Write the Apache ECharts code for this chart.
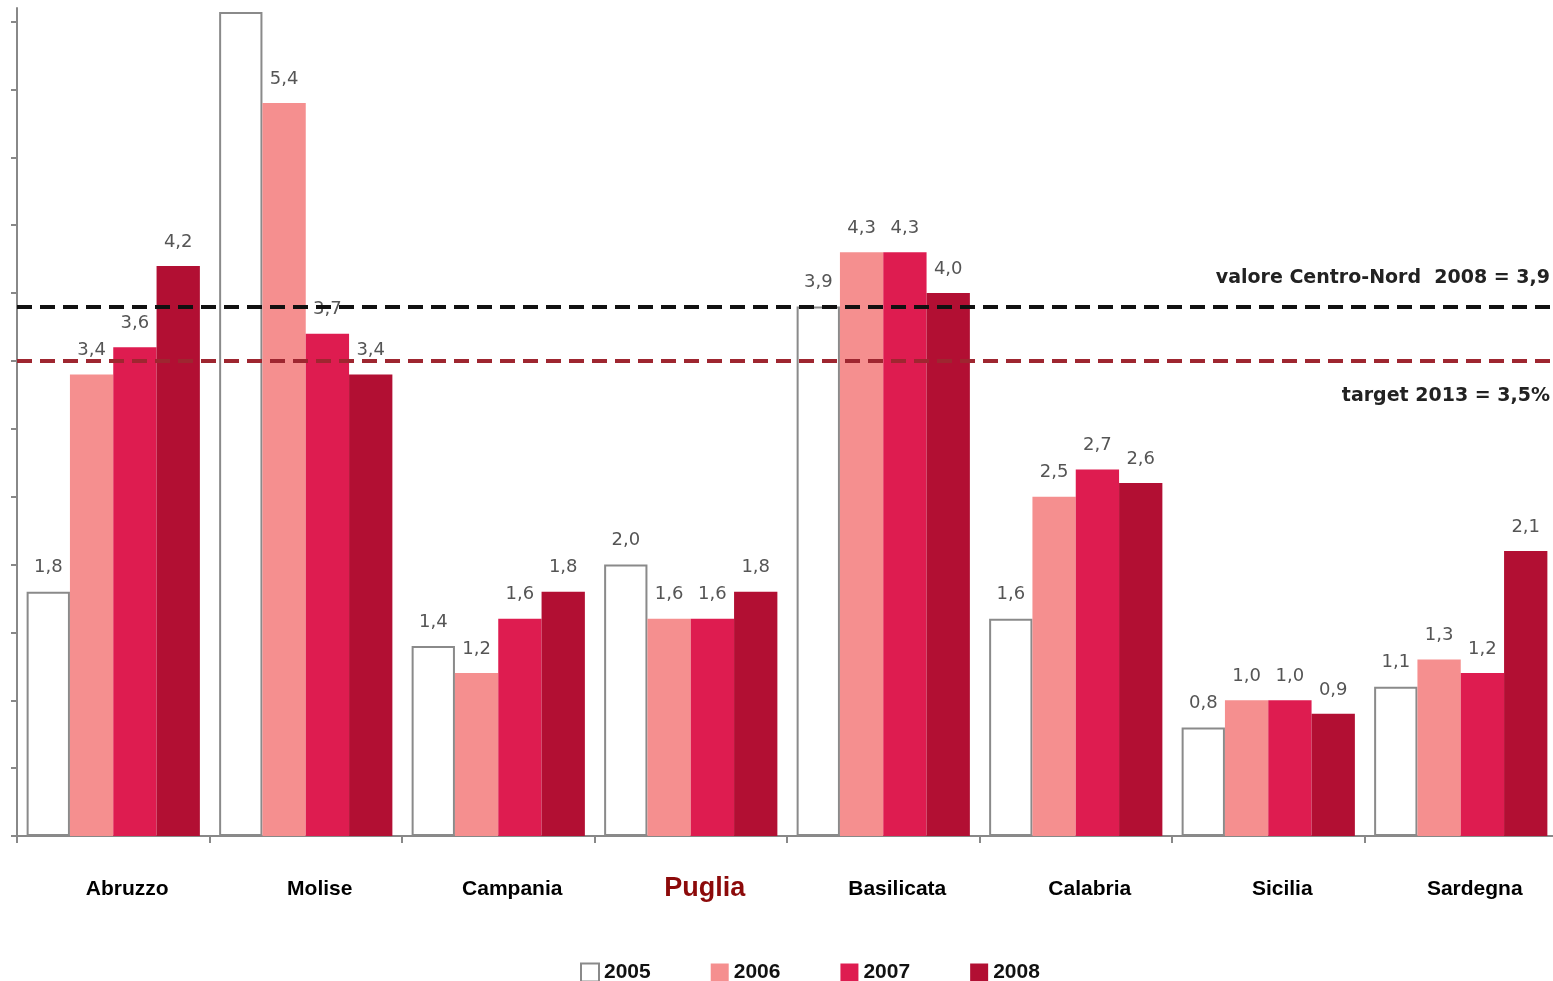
<!DOCTYPE html>
<html>
<head>
<meta charset="utf-8">
<script src="https://cdn.jsdelivr.net/npm/echarts@6/dist/echarts.min.js"></script>
<style>
html,body{margin:0;padding:0;background:#fff;}
#chart{width:1553px;height:981px;}
</style>
</head>
<body>
<div id="chart"></div>
<script>
var regions = ['Abruzzo', 'Molise', 'Campania', 'Puglia', 'Basilicata', 'Calabria', 'Sicilia', 'Sardegna'];
var years = ['2005', '2006', '2007', '2008'];
var v2005 = [1.8, 6.07, 1.4, 2.0, 3.9, 1.6, 0.8, 1.1];
var v2006 = [3.4, 5.4, 1.2, 1.6, 4.3, 2.5, 1.0, 1.3];
var v2007 = [3.6, 3.7, 1.6, 1.6, 4.3, 2.7, 1.0, 1.2];
var v2008 = [4.2, 3.4, 1.8, 1.8, 4.0, 2.6, 0.9, 2.1];
var hiddenLabels2005 = [false, true, false, false, false, false, false, false];
var yTicks = [0, 0.5, 1, 1.5, 2, 2.5, 3, 3.5, 4, 4.5, 5, 5.5, 6];
var centroNord2008 = 3.9;
var target2013 = 3.5;
var highlightRegion = 'Puglia';

function fmt(v) { return v.toFixed(1).replace('.', ','); }

var chart = echarts.init(document.getElementById('chart'), null, {renderer: 'canvas'});

var labelStyle = {
  show: true,
  position: 'top',
  distance: 15,
  fontFamily: 'DejaVu Sans',
  fontSize: 18,
  color: '#555',
  formatter: function (p) { return fmt(p.value); }
};

var colors = ['#ffffff', '#F58F8F', '#DE1C50', '#B20F33'];
var allData = [v2005, v2006, v2007, v2008];

var series = years.map(function (y, i) {
  var s = {
    name: y,
    type: 'bar',
    barGap: '0%',
    barCategoryGap: '10%',
    itemStyle: { color: colors[i] },
    label: labelStyle,
    data: allData[i].map(function (v, j) {
      if (i === 0 && hiddenLabels2005[j]) return { value: v, label: { show: false } };
      return v;
    })
  };
  if (i === 0) {
    s.itemStyle = { color: '#ffffff', borderColor: '#8a8a8a', borderWidth: 2 };
    s.markLine = {
      silent: true,
      symbol: 'none',
      data: [
        {
          yAxis: centroNord2008,
          lineStyle: { color: '#111', type: [15, 8], width: 4 },
          label: {
            position: 'insideEndTop',
            distance: [7, 19],
            formatter: 'valore Centro-Nord  2008 = ' + fmt(centroNord2008),
            fontFamily: 'DejaVu Sans',
            fontWeight: 'bold',
            fontSize: 19,
            color: '#222'
          }
        },
        {
          yAxis: target2013,
          lineStyle: { color: '#9E2630', type: [15, 8], width: 4 },
          label: {
            position: 'insideEndBottom',
            distance: [7, 26],
            formatter: 'target 2013 = ' + fmt(target2013) + '%',
            fontFamily: 'DejaVu Sans',
            fontWeight: 'bold',
            fontSize: 19,
            color: '#222'
          }
        }
      ]
    };
  }
  return s;
});

var option = {
  backgroundColor: '#ffffff',
  animation: false,
  grid: { left: 17, right: -4, top: 8, bottom: 145, containLabel: false, outerBoundsMode: 'none' },
  legend: {
    data: years,
    left: 575,
    top: 957,
    itemWidth: 18,
    itemHeight: 18,
    itemGap: 60,
    icon: 'rect',
    textStyle: { fontFamily: 'Liberation Sans', fontSize: 21, fontWeight: 'bold', color: '#111' }
  },
  xAxis: {
    type: 'category',
    data: regions,
    axisLine: { show: true, lineStyle: { color: '#888', width: 2 } },
    axisTick: { show: true, length: 7, lineStyle: { color: '#888', width: 2 } },
    axisLabel: {
      margin: 39,
      padding: [0, 0, 0, 28],
      formatter: function (v) {
        return v === highlightRegion ? '{p|' + v + '}' : '{n|' + v + '}';
      },
      rich: {
        n: { fontFamily: 'Liberation Sans', fontWeight: 'bold', fontSize: 21, color: '#000', lineHeight: 28 },
        p: { fontFamily: 'Liberation Sans', fontWeight: 'bold', fontSize: 27, color: '#8C0A0A', lineHeight: 28 }
      }
    }
  },
  yAxis: {
    type: 'value',
    min: 0,
    max: 6.1,
    interval: 0.5,
    splitLine: { show: false },
    axisLine: { show: true, lineStyle: { color: '#888', width: 2 } },
    axisTick: { show: true, length: 6, customValues: yTicks, lineStyle: { color: '#888', width: 2 } },
    axisLabel: { show: false }
  },
  series: series
};

chart.setOption(option);
</script>
</body>
</html>
